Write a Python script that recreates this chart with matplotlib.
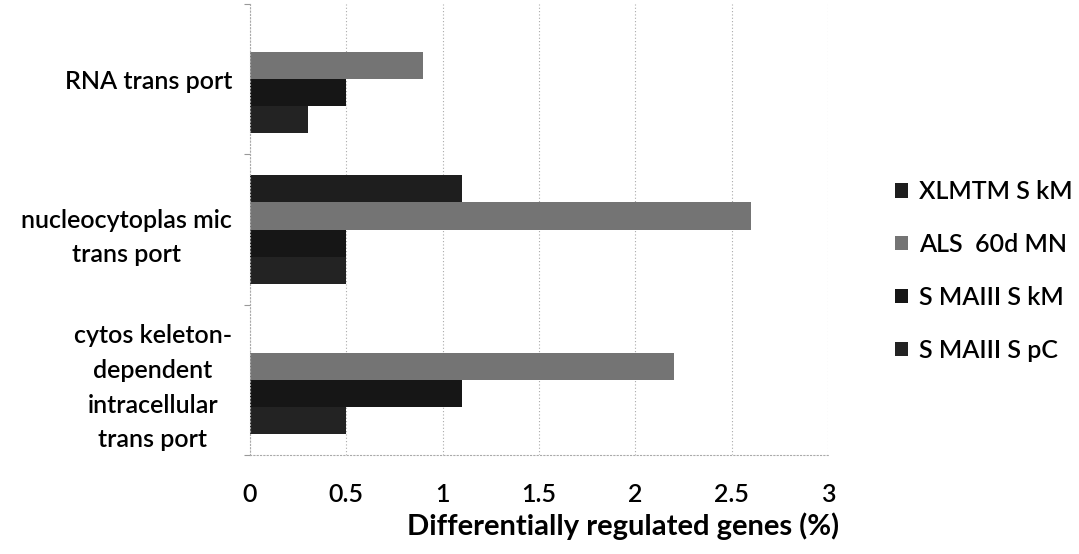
import matplotlib
matplotlib.use("Agg")
import matplotlib.pyplot as plt
import numpy as np

# Categories listed bottom to top
categories = [
    "cytos keleton-\ndependent\nintracellular\ntrans port",
    "nucleocytoplas mic\ntrans port",
    "RNA trans port",
]
series_names = ["XLMTM S kM", "ALS  60d MN", "S MAIII S kM", "S MAIII S pC"]
xlmtm_skm = [0.0, 1.1, 0.0]
als_60d_mn = [2.2, 2.6, 0.9]
smaiii_skm = [1.1, 0.5, 0.5]
smaiii_spc = [0.5, 0.5, 0.3]
x_ticks = [0, 0.5, 1, 1.5, 2, 2.5, 3]
x_tick_labels = ["0", "0.5", "1", "1.5", "2", "2.5", "3"]

series_values = [xlmtm_skm, als_60d_mn, smaiii_skm, smaiii_spc]
colors = ["#1e1e1e", "#747474", "#161616", "#232323"]

plt.rcParams["font.family"] = ["Lato", "DejaVu Sans"]
TEXT_WEIGHT = "semibold"

W, H = 1079, 554
fig = plt.figure(figsize=(W / 100, H / 100), dpi=100)
ax = fig.add_axes([250 / W, 1 - 455 / H, (828 - 250) / W, (455 - 4) / H])

bar_h = 0.18
offsets = [1.5 * bar_h, 0.5 * bar_h, -0.5 * bar_h, -1.5 * bar_h]
y = np.arange(len(categories))
for vals, off, col, name in zip(series_values, offsets, colors, series_names):
    ax.barh(y + off, vals, height=bar_h, color=col, label=name, linewidth=0)

ax.set_xlim(0, 3)
ax.set_ylim(-0.5, 2.5)
ax.set_xticks(x_ticks)
ax.set_xticklabels(x_tick_labels, fontsize=18, fontweight=TEXT_WEIGHT)
ax.set_yticks(y)
ax.set_yticklabels(categories, fontsize=18, fontweight=TEXT_WEIGHT,
                   multialignment="center", linespacing=1.62)
ax.tick_params(axis="x", length=0, pad=20)
ax.tick_params(axis="y", length=0, pad=13)
ax.set_yticks([-0.5, 0.5, 1.5, 2.5], minor=True)
ax.tick_params(axis="y", which="minor", length=4, color="#999999", width=0.8)

ax.grid(axis="x", color="#aaaaaa", linestyle=(0, (1, 2)), linewidth=0.8)
ax.set_axisbelow(True)
for side in ["left", "bottom"]:
    ax.spines[side].set_color("#aaaaaa")
    ax.spines[side].set_linestyle((0, (1, 2)))
    ax.spines[side].set_linewidth(0.8)
ax.spines["right"].set_visible(False)
ax.spines["top"].set_visible(False)

ax.set_xlabel("Differentially regulated genes (%)", fontsize=21,
              fontweight="bold")
ax.xaxis.label.set_va("baseline")
ax.xaxis.set_label_coords(0.645, -0.177)

ax.legend(loc="center left", bbox_to_anchor=(895 / W, 1 - 271 / H),
          bbox_transform=fig.transFigure, frameon=False,
          prop={"weight": TEXT_WEIGHT, "size": 18},
          borderpad=0, borderaxespad=0,
          handlelength=0.5, handleheight=0.5, handletextpad=0.45,
          labelspacing=1.19)

fig.savefig("out.png", dpi=100)
